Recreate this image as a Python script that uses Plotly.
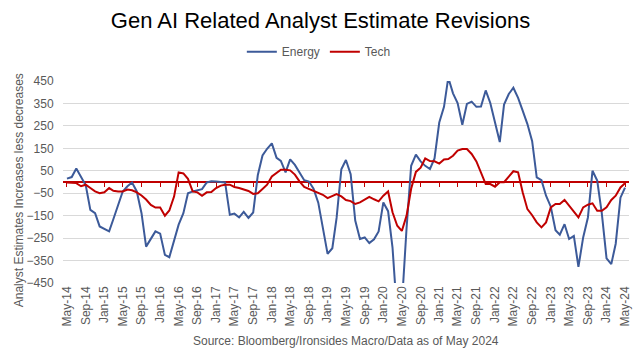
import pandas as pd
import plotly.graph_objects as go

months = pd.date_range("2014-05-01", periods=121, freq="MS")

energy = [15, 22, 60, 25, -15, -124, -139, -198, -210, -220,
          -165, -101, -42, -19, -2, -42, -139, -288, -250, -220,
          -230, -325, -335, -258, -190, -139, -50, -42, -36, -32,
          -2, 3, 2, 0, -2, -146, -141, -158, -133, -160,
          -136, 30, 118, 148, 172, 108, 94, 43, 101, 76,
          40, 8, 2, -30, -92, -210, -320, -295, -160, 57,
          98, 35, -172, -254, -247, -272, -255, -220, -91, -130,
          -292, -600, -550, -205, 72, 122, 92, 72, 58, 105,
          265, 335, 465, 395, 352, 255, 348, 358, 335, 336,
          408, 352, 262, 178, 345, 392, 420, 375, 318, 258,
          182, 21, 8, -61, -110, -215, -235, -188, -254, -240,
          -378, -247, -158, 50, 6, -140, -340, -366, -275, -70,
          -25]

tech = [-2, -3, -5, -19, -12, -27, -42, -50, -46, -27,
        -39, -42, -42, -34, -37, -46, -60, -78, -102, -114,
        -114, -150, -127, -65, 43, 38, 14, -42, -46, -61,
        -46, -45, -27, -16, -12, -12, -22, -27, -34, -40,
        -53, -50, -31, -12, 25, 40, 55, 55, 52, 33,
        3, -22, -31, -42, -49, -57, -72, -61, -54, -64,
        -80, -85, -98, -91, -80, -66, -77, -86, -61, -42,
        -135, -195, -218, -150, -30, 45, 64, 105, 93, 92,
        82, 100, 102, 117, 140, 147, 147, 125, 92, 43,
        -9, -9, -21, -1, -1, 24, 48, 43, -46, -121,
        -148, -180, -202, -180, -113, -98, -98, -80, -106, -128,
        -158, -113, -101, -95, -128, -128, -113, -80, -61, -24,
        -6]

FONT = "Arial, Liberation Sans, sans-serif"
GREY = "#595959"
x_range = ["2014-04-05", "2024-05-27"]

fig = go.Figure()
# helper trace for the zero-crossing axis
fig.add_trace(go.Scatter(x=[months[0]], y=[0], xaxis="x2", mode="markers",
                         marker=dict(opacity=0), showlegend=False, hoverinfo="skip"))
fig.add_trace(go.Scatter(x=months, y=energy, name="Energy", mode="lines",
                         line=dict(color="#3C5A99", width=2)))
fig.add_trace(go.Scatter(x=months, y=tech, name="Tech", mode="lines",
                         line=dict(color="#C00000", width=2)))

fig.update_layout(
    width=641, height=350,
    margin=dict(l=63, r=9, t=81, b=67),
    paper_bgcolor="white", plot_bgcolor="white",
    font=dict(family=FONT, size=12, color=GREY),
    title=dict(text="Gen AI Related Analyst Estimate Revisions",
               x=0.5, xanchor="center", y=1 - 20 / 350, yanchor="middle",
               font=dict(family=FONT, size=22, color="black")),
    legend=dict(orientation="h", x=0.452, xanchor="center", y=1.145, yanchor="middle",
                font=dict(family=FONT, size=12, color=GREY), itemwidth=30,
                bgcolor="rgba(0,0,0,0)"),
    xaxis=dict(type="date", range=x_range, tick0="2014-05-01", dtick="M4",
               tickformat="%b-%y", tickangle=-90, showgrid=False, showline=False,
               ticks="", zeroline=False, tickfont=dict(size=12, color=GREY)),
    xaxis2=dict(type="date", overlaying="x", anchor="free", position=0.5,
                range=x_range, tick0="2014-05-01", dtick="M4",
                ticks="outside", ticklen=4, tickwidth=1, tickcolor="#C00000",
                showticklabels=False, showline=True, linecolor="#C00000",
                linewidth=1.5, showgrid=False, zeroline=False, layer="below traces"),
    yaxis=dict(range=[-450, 450], tick0=50, dtick=100, showgrid=True,
               gridcolor="#D9D9D9", gridwidth=1, zeroline=False, showline=False,
               ticks="outside", ticklen=6, tickcolor="rgba(0,0,0,0)",
               tickfont=dict(size=12, color=GREY)),
    showlegend=True,
)

fig.add_annotation(text="Analyst Estimates Increases less decreases",
                   xref="paper", yref="paper", x=(19 - 63) / 569, y=(283 - 190) / 202,
                   xanchor="center", yanchor="middle", textangle=-90, showarrow=False,
                   font=dict(family=FONT, size=12, color=GREY))

fig.add_annotation(text="Source: Bloomberg/Ironsides Macro/Data as of May 2024",
                   xref="paper", yref="paper", x=0.5, y=-0.287,
                   xanchor="center", yanchor="middle", showarrow=False,
                   font=dict(family=FONT, size=12, color=GREY))

fig.write_html("out.html")
